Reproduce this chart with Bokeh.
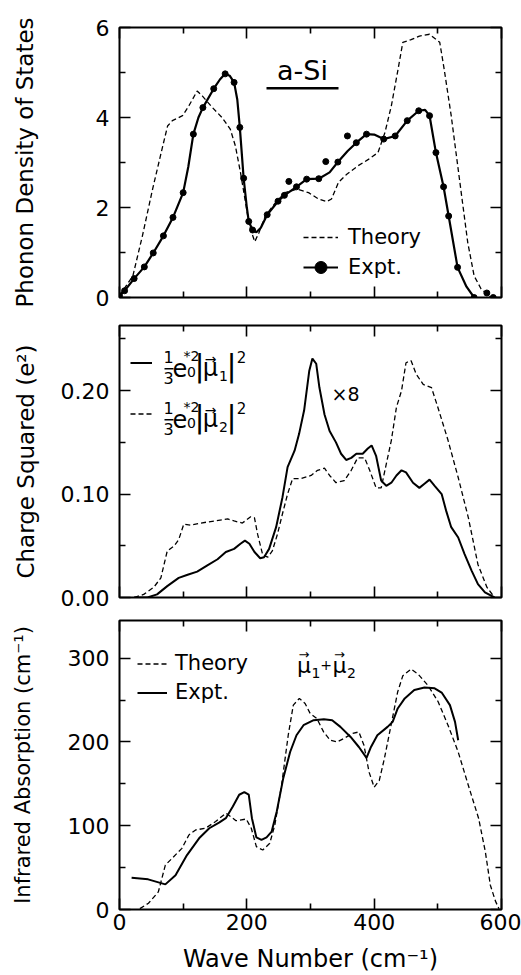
from bokeh.plotting import figure
from bokeh.layouts import column
from bokeh.models import (Range1d, LinearAxis, FixedTicker, Legend, LegendItem, Label,
                          BoxAnnotation, CustomJSTickFormatter, NumeralTickFormatter)
from bokeh.embed import file_html
from bokeh.resources import INLINE

# ---------------- data ----------------
# Panel 1: phonon density of states
dos_theory_x = [0, 21, 36, 52, 68, 75.5, 83, 99, 109, 122, 130, 146, 161, 174, 182, 190, 198, 204, 212.5, 219,
                229, 245, 260, 279, 297, 312.5, 325.5, 333, 344, 357, 375, 391, 406, 417, 427, 437.5, 445, 458,
                471, 487, 503, 510, 521, 536, 547, 557, 568, 578, 583]
dos_theory_y = [0.04, 0.48, 1.37, 2.41, 3.37, 3.81, 3.93, 4.04, 4.26, 4.59, 4.48, 4.22, 4.0, 3.74, 3.37, 2.78,
                2.11, 1.59, 1.24, 1.44, 1.81, 2.11, 2.33, 2.41, 2.33, 2.19, 2.13, 2.19, 2.56, 2.74, 2.93, 3.07,
                3.22, 3.67, 4.26, 5.07, 5.67, 5.73, 5.81, 5.85, 5.67, 5.07, 4.04, 2.41, 1.22, 0.48, 0.19, 0.07, 0.0]
dos_expt_x = [0, 8, 23, 39, 53, 69, 84, 100, 108, 116, 124, 131, 148, 158, 166, 173, 180, 185, 189, 195,
              200, 203, 209, 215, 222, 232, 249, 259, 278, 294, 313, 330, 343, 358, 372, 388, 400, 415, 433,
              452, 470, 480, 487, 497, 509, 517, 531, 545, 557]
dos_expt_y = [0.04, 0.15, 0.42, 0.68, 0.99, 1.37, 1.78, 2.33, 2.9, 3.63, 4.0, 4.22, 4.64, 4.85, 4.97, 4.93,
              4.78, 4.4, 3.78, 2.65, 2.0, 1.69, 1.5, 1.45, 1.55, 1.84, 2.14, 2.27, 2.46, 2.63, 2.64, 2.78,
              3.01, 3.25, 3.44, 3.63, 3.62, 3.52, 3.59, 3.93, 4.15, 4.17, 4.04, 3.22, 2.46, 1.81, 0.67, 0.24, 0.0]
dos_dots_x = [0, 8, 23, 39, 53, 69, 84, 100, 116, 131, 148, 166, 180, 189, 195, 203, 209, 232, 249, 259,
              266, 278, 294, 313, 324, 343, 358, 372, 388, 415, 433, 452, 470, 487, 497, 509, 517, 531, 557,
              577, 587]
dos_dots_y = [0.04, 0.15, 0.42, 0.68, 0.99, 1.37, 1.78, 2.33, 3.63, 4.22, 4.64, 4.97, 4.78, 3.78, 2.65, 1.69,
              1.5, 1.84, 2.14, 2.27, 2.58, 2.46, 2.63, 2.64, 3.02, 3.01, 3.59, 3.44, 3.63, 3.52, 3.59, 3.93,
              4.15, 4.04, 3.22, 2.46, 1.81, 0.67, 0.0, 0.1, 0.0]

# Panel 2: charge squared
mu1_x = [23, 44, 59, 75, 93, 107, 122, 138, 154, 167, 180, 190, 197, 204, 212, 221, 227, 235, 246, 256,
         264, 275, 282, 290, 298, 303, 309, 314, 322, 330, 340, 348, 356, 364, 372, 382, 390, 396, 403, 411,
         419, 427, 435, 443, 450, 461, 471, 479, 487, 495, 506, 513, 521, 532, 542, 553, 563, 574, 589]
mu1_y = [0, 0, 0.003, 0.011, 0.019, 0.022, 0.025, 0.031, 0.037, 0.044, 0.047, 0.052, 0.055, 0.052, 0.044,
         0.038, 0.039, 0.047, 0.068, 0.097, 0.126, 0.142, 0.158, 0.181, 0.219, 0.231, 0.226, 0.203, 0.177,
         0.161, 0.150, 0.139, 0.133, 0.135, 0.139, 0.139, 0.144, 0.147, 0.137, 0.113, 0.108, 0.111, 0.118,
         0.123, 0.121, 0.111, 0.106, 0.110, 0.114, 0.108, 0.100, 0.084, 0.068, 0.058, 0.042, 0.026, 0.013,
         0.005, 0.0]
mu2_x = [23, 38, 54, 65, 75, 86, 93, 101, 112, 128, 149, 170, 180, 193, 206, 212, 217, 225, 233, 240,
         248, 256, 264, 272, 285, 301, 311, 322, 330, 340, 353, 364, 374, 385, 393, 403, 411, 419, 427, 435,
         443, 450, 458, 466, 477, 490, 500, 516, 532, 548, 563, 577, 589]
mu2_y = [0, 0.003, 0.010, 0.019, 0.045, 0.050, 0.056, 0.071, 0.070, 0.072, 0.074, 0.076, 0.074, 0.072, 0.078,
         0.077, 0.061, 0.041, 0.039, 0.045, 0.061, 0.081, 0.100, 0.115, 0.115, 0.118, 0.123, 0.125, 0.118,
         0.111, 0.113, 0.123, 0.135, 0.135, 0.123, 0.106, 0.106, 0.129, 0.152, 0.184, 0.200, 0.227, 0.229,
         0.216, 0.206, 0.203, 0.184, 0.152, 0.116, 0.077, 0.032, 0.010, 0.0]

# Panel 3: infrared absorption
ir_theory_x = [32, 45.5, 61, 72, 82.5, 98, 109, 119.6, 135, 151, 167, 178, 183, 199, 207, 215, 225, 236, 244,
               254.5, 265, 273, 282.5, 291.5, 299.5, 310, 320.6, 331, 342, 352, 365.6, 376, 384, 392, 400,
               408, 416, 426.5, 437, 445, 458, 469, 485, 500.5, 516, 532, 548, 564, 574.6, 582.5, 590.5, 596]
ir_theory_y = [1, 7.5, 21, 53, 61, 73, 89, 95, 97, 105, 115, 109, 106, 108, 97, 75, 71, 79, 101, 148, 208,
               244, 252, 246, 234, 228, 212, 202, 200, 204, 210, 212, 196, 164, 146, 154, 180, 220, 260, 279,
               287, 281, 267, 248, 220, 188, 148, 109, 69, 29, 10, 1]
ir_expt_x = [19, 45, 72, 88, 106, 125, 141, 157, 167, 178, 188, 196, 203, 208, 215, 223, 231, 239, 247, 257,
             268, 278, 289, 305, 321, 334, 347, 363, 376, 388, 395, 405, 421, 429, 437, 448, 463, 479, 495,
             506, 519, 527, 532]
ir_expt_y = [38, 36, 30, 41, 65, 85, 97, 104, 109, 123, 137, 140, 137, 109, 86, 83, 86, 93, 117, 156, 188,
             208, 220, 226, 227, 226, 218, 206, 194, 181, 194, 208, 218, 224, 240, 252, 262, 265, 264, 259,
             244, 224, 202]

x_ticks = [0, 200, 400, 600]
x_minor = [100, 300, 500]
dos_ticks = [0, 2, 4, 6]
dos_minor = [1, 3, 5]
charge_ticks = [0, 0.1, 0.2]
charge_minor = [0.05, 0.15, 0.25]
ir_ticks = [0, 100, 200, 300]
ir_minor = [50, 150, 250]

# ---------------- layout / style ----------------
FONT = "DejaVu Sans"
W = 521
FL, FW = 119, 382


def style_axis(ax, ticks, minor, show, size="22px", standoff=10):
    ax.ticker = FixedTicker(ticks=ticks, minor_ticks=minor)
    ax.axis_line_color = None
    ax.major_tick_in = 11
    ax.major_tick_out = 0
    ax.minor_tick_in = 6
    ax.minor_tick_out = 0
    ax.major_tick_line_width = 1.6
    ax.minor_tick_line_width = 1.6
    ax.major_tick_line_color = "black"
    ax.minor_tick_line_color = "black"
    if show:
        ax.major_label_text_font = FONT
        ax.major_label_text_font_size = size
        ax.major_label_text_color = "black"
        ax.major_label_standoff = standoff
    else:
        ax.formatter = CustomJSTickFormatter(code="return ''")
        ax.major_label_text_font_size = "0px"
        ax.major_label_text_color = None
        ax.major_label_standoff = 0


def make_panel(y_lo, y_hi, top, fh, bottom, yt, ym, ylabel, lsize, lstand, x_labels=False):
    p = figure(width=W, height=top + fh + bottom, frame_width=FW, frame_height=fh,
               min_border_left=FL, min_border_right=W - FL - FW, min_border_top=top,
               min_border_bottom=bottom, x_range=Range1d(0, 600), y_range=Range1d(y_lo, y_hi),
               output_backend="svg", toolbar_location=None)
    p.grid.visible = False
    p.outline_line_color = "black"
    p.outline_line_width = 2
    p.background_fill_color = "white"
    p.border_fill_color = "white"
    bottom_ax = p.below[0]
    left_ax = p.left[0]
    style_axis(bottom_ax, x_ticks, x_minor, x_labels, standoff=4)
    style_axis(left_ax, yt, ym, True, standoff=10)
    left_ax.axis_label = ylabel
    left_ax.axis_label_text_font = FONT
    left_ax.axis_label_text_font_size = lsize
    left_ax.axis_label_text_font_style = "normal"
    left_ax.axis_label_text_color = "black"
    left_ax.axis_label_standoff = lstand
    top_ax = LinearAxis()
    style_axis(top_ax, x_ticks, x_minor, False)
    p.add_layout(top_ax, "above")
    right_ax = LinearAxis()
    style_axis(right_ax, yt, ym, False)
    p.add_layout(right_ax, "right")
    return p, bottom_ax, left_ax


def X(px):
    return (px - FL) * 600 / FW


def yconv(fb, fh, lo, hi):
    return lambda py: lo + (fb - py) * (hi - lo) / fh


def lab(p, Y, px, py, text, size, align="center", baseline="alphabetic"):
    shift = 0.45 * size if baseline == "alphabetic" else 0.0
    p.add_layout(Label(x=X(px), y=Y(py - shift), text=text, text_font=FONT,
                       text_font_size=f"{size}px", text_align=align, text_baseline=baseline,
                       text_color="black"))


def bar(p, Y, x0, x1, y0, y1):
    p.add_layout(BoxAnnotation(left=X(x0), right=X(x1), top=Y(y0), bottom=Y(y1),
                               fill_color="black", fill_alpha=1, line_color=None))


def legend(items, loc, gw, lh, standoff, size="21px"):
    return Legend(items=items, location=loc, border_line_color=None, background_fill_alpha=0,
                  label_text_font=FONT, label_text_font_size=size, label_text_color="black",
                  glyph_width=gw, glyph_height=lh, label_height=lh, label_standoff=standoff,
                  padding=0, margin=0, spacing=0)


# ---- Panel 1 ----
p1, _, _ = make_panel(0, 6, 27, 270, 14, dos_ticks, dos_minor, "Phonon Density of States", "23px", 55)
Y1 = yconv(297, 270, 0, 6)
r_th1 = p1.line(dos_theory_x, dos_theory_y, line_color="black", line_width=1.3, line_dash="5 3")
r_ex1 = p1.line(dos_expt_x, dos_expt_y, line_color="black", line_width=2.2)
r_dt1 = p1.scatter(dos_dots_x, dos_dots_y, size=6, color="black")
p1.add_layout(legend([LegendItem(label="Theory", renderers=[r_th1]),
                      LegendItem(label="Expt.", renderers=[r_ex1, r_dt1])], (184, 15), 35, 30, 10))
lab(p1, Y1, 302, 82, "a-Si", 27)
bar(p1, Y1, 266, 338, 86.5, 89)

# ---- Panel 2 ----
p2, _, ax2 = make_panel(0, 0.263, 14, 272, 14, charge_ticks, charge_minor, "Charge Squared (e²)", "23px", 19)
ax2.formatter = NumeralTickFormatter(format="0.00")
Y2 = yconv(597, 272, 0, 0.263)
r_m1 = p2.line(mu1_x, mu1_y, line_color="black", line_width=2)
r_m2 = p2.line(mu2_x, mu2_y, line_color="black", line_width=1.3, line_dash="5 3")
p2.add_layout(legend([LegendItem(label="", renderers=[r_m1]),
                      LegendItem(label="", renderers=[r_m2])], (11, 158.5), 22, 51, 0))


def formula(p, Y, base, sub):
    lab(p, Y, 168, base - 14, "1", 16)
    bar(p, Y, 164, 173, base - 10.5, base - 9)
    lab(p, Y, 168, base + 7, "3", 16)
    lab(p, Y, 179.5, base, "e", 24)
    lab(p, Y, 191, base - 16, "*2", 14)
    lab(p, Y, 191, base, "0", 14)
    lab(p, Y, 199, base, "|", 30)
    lab(p, Y, 210, base, "μ", 24)
    lab(p, Y, 210, base - 20, "→", 14, baseline="middle")
    lab(p, Y, 223, base + 4, sub, 14)
    lab(p, Y, 231, base, "|", 30)
    lab(p, Y, 241, base - 15, "2", 15)


formula(p2, Y2, 378, "1")
formula(p2, Y2, 429, "2")
lab(p2, Y2, 331, 402, "×8", 19, align="left")

# ---- Panel 3 ----
p3, xa, _ = make_panel(0, 345, 9, 289, 66, ir_ticks, ir_minor, "Infrared Absorption (cm⁻¹)", "21px", 30,
                       x_labels=True)
Y3 = yconv(909, 289, 0, 345)
xa.axis_label = "Wave Number (cm⁻¹)"
xa.axis_label_text_font = FONT
xa.axis_label_text_font_size = "24px"
xa.axis_label_text_font_style = "normal"
xa.axis_label_text_color = "black"
xa.axis_label_standoff = 12
r_th3 = p3.line(ir_theory_x, ir_theory_y, line_color="black", line_width=1.3, line_dash="5 3")
r_ex3 = p3.line(ir_expt_x, ir_expt_y, line_color="black", line_width=2)
p3.add_layout(legend([LegendItem(label="Theory", renderers=[r_th3]),
                      LegendItem(label="Expt.", renderers=[r_ex3])], (18, 202.5), 30, 29, 8))
for cx, sub in ((303.5, "1"), (339, "2")):
    lab(p3, Y3, cx, 675, "μ", 22)
    lab(p3, Y3, cx, 654, "→", 13, baseline="middle")
    lab(p3, Y3, cx + 12, 679, sub, 14)
lab(p3, Y3, 325.5, 671, "+", 14)

layout = column(p1, p2, p3, spacing=0)
open("out.html", "w").write(file_html(layout, INLINE))
